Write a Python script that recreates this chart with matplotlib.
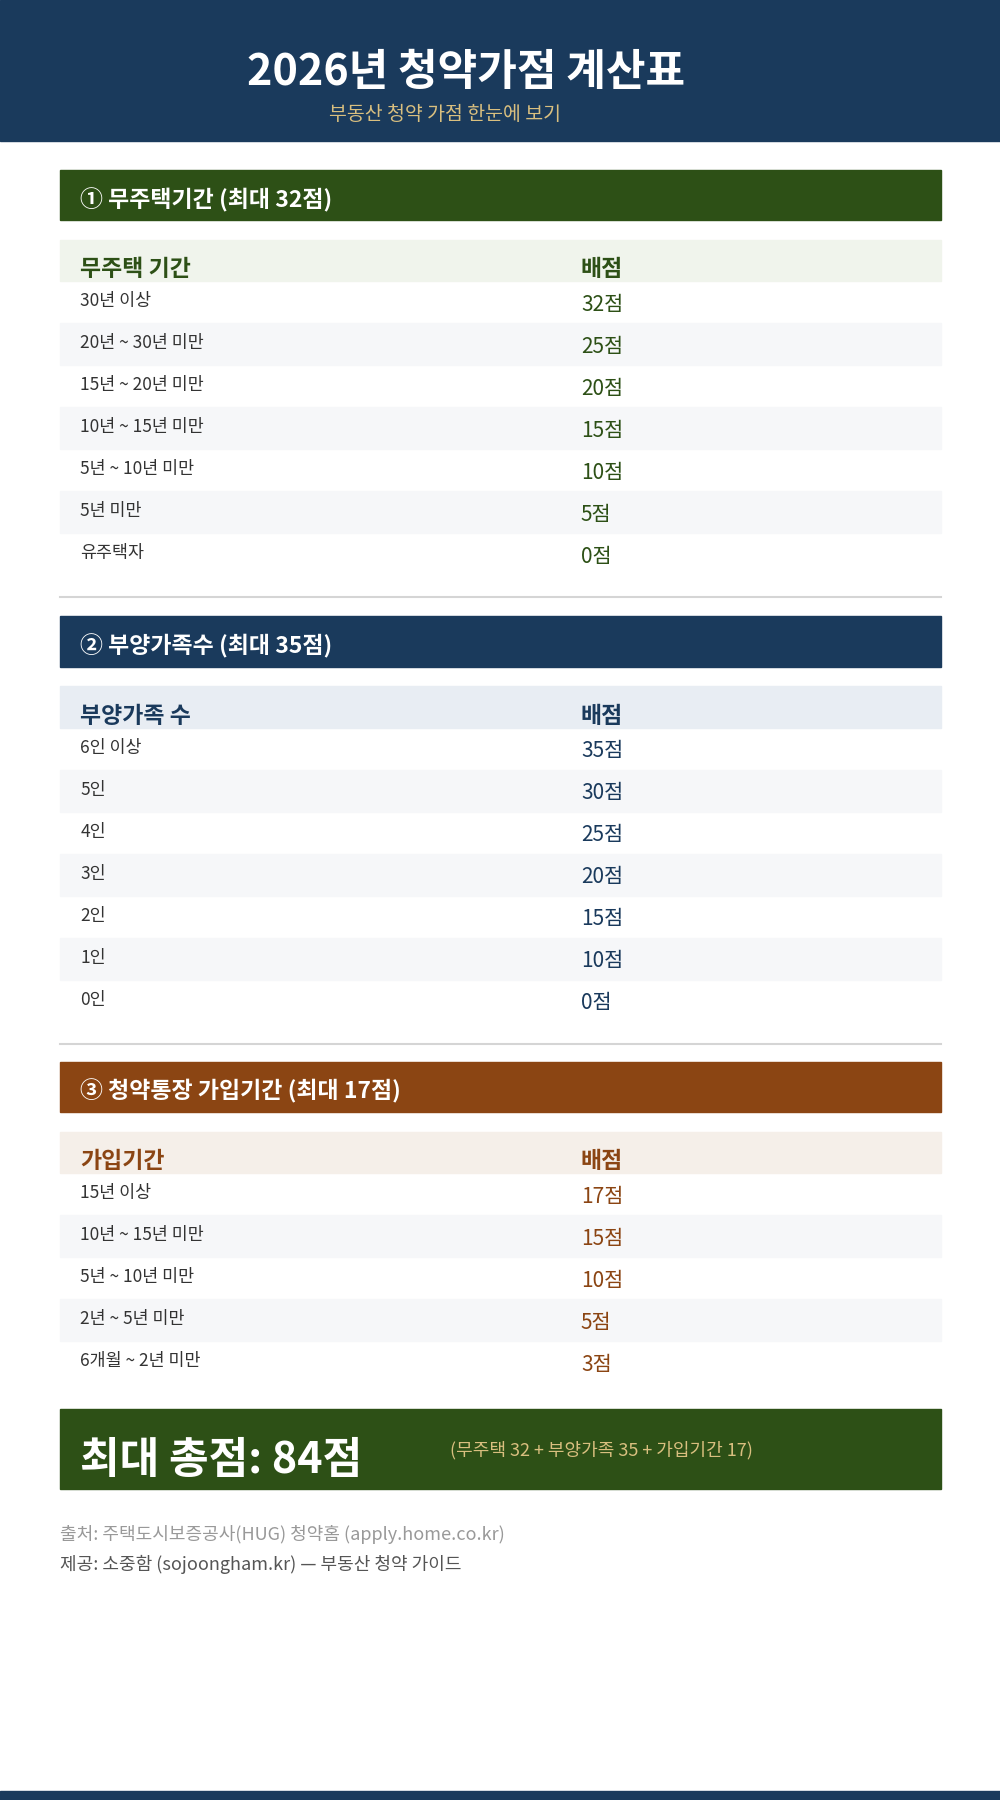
import matplotlib.pyplot as plt
from matplotlib.patches import Rectangle

plt.rcParams['font.family'] = ['Noto Sans CJK KR', 'DejaVu Sans']

title = "2026년 청약가점 계산표"
subtitle = "부동산 청약 가점 한눈에 보기"

sec_titles = ["① 무주택기간 (최대 32점)", "② 부양가족수 (최대 35점)", "③ 청약통장 가입기간 (최대 17점)"]
col_heads = ["무주택 기간", "부양가족 수", "가입기간"]
sec1_labels = ["30년 이상", "20년 ~ 30년 미만", "15년 ~ 20년 미만", "10년 ~ 15년 미만",
               "5년 ~ 10년 미만", "5년 미만", "유주택자"]
sec1_points = [32, 25, 20, 15, 10, 5, 0]
sec2_labels = ["6인 이상", "5인", "4인", "3인", "2인", "1인", "0인"]
sec2_points = [35, 30, 25, 20, 15, 10, 0]
sec3_labels = ["15년 이상", "10년 ~ 15년 미만", "5년 ~ 10년 미만", "2년 ~ 5년 미만", "6개월 ~ 2년 미만"]
sec3_points = [17, 15, 10, 5, 3]

total = "최대 총점: 84점"
total_note = "(무주택 32 + 부양가족 35 + 가입기간 17)"
source1 = "출처: 주택도시보증공사(HUG) 청약홈 (apply.home.co.kr)"
source2 = "제공: 소중함 (sojoongham.kr) — 부동산 청약 가이드"

navy = "#1a3a5c"
gold = "#d9bf7f"
main_colors = ["#2d5016", navy, "#8b4513"]
head_bgs = ["#f0f4ec", "#e8edf3", "#f5efe9"]
sec_tops = [148, 537, 925]

fig = plt.figure(figsize=(10, 18), dpi=100)
ax = fig.add_axes([0, 0, 1, 1])
ax.set_xlim(0, 871)
ax.set_ylim(1568, 0)
ax.axis('off')

ax.add_patch(Rectangle((0, 0), 871, 123, color=navy))
ax.text(406, 63, title, color='white', fontsize=31, fontweight='bold', ha='center', va='center')
ax.text(388, 100, subtitle, color=gold, fontsize=14, ha='center', va='center')

rh = 36.6
sections = [(sec1_labels, sec1_points), (sec2_labels, sec2_points), (sec3_labels, sec3_points)]
for i, (labels, points) in enumerate(sections):
    top = sec_tops[i]
    c = main_colors[i]
    ax.add_patch(Rectangle((52, top), 768, 44, color=c))
    ax.text(70, top + 26, sec_titles[i], color='white', fontsize=16.5, fontweight='bold', va='center')
    ax.add_patch(Rectangle((52, top + 61), 768, 36, color=head_bgs[i]))
    ax.text(70, top + 87, col_heads[i], color=c, fontsize=16.5, fontweight='bold', va='center')
    ax.text(506, top + 87, "배점", color=c, fontsize=16.5, fontweight='bold', va='center')
    y0 = top + 97
    for j, (lab, p) in enumerate(zip(labels, points)):
        ry = y0 + j * rh
        if j % 2 == 1:
            ax.add_patch(Rectangle((52, ry), 768, rh, color="#f6f7f9"))
        ax.text(70, ry + rh / 2 - 1, lab, color='#333333', fontsize=12.5, va='center')
        ax.text(506, ry + rh / 2 + 2, f"{p}점", color=c, fontsize=15, va='center')
    if i < 2:
        ax.plot([52, 820], [y0 + len(labels) * rh + 19] * 2, color='#d5d5d5', lw=1.5)

ax.add_patch(Rectangle((52, 1227), 768, 70, color=main_colors[0]))
ax.text(70, 1272, total, color='white', fontsize=31, fontweight='bold', va='center')
ax.text(392, 1263, total_note, color=gold, fontsize=13, va='center')

ax.text(52, 1337, source1, color='#999999', fontsize=13, va='center')
ax.text(52, 1363, source2, color='#555555', fontsize=13, va='center')

ax.add_patch(Rectangle((0, 1560), 871, 8, color=navy))

fig.savefig("out.png", dpi=100)
